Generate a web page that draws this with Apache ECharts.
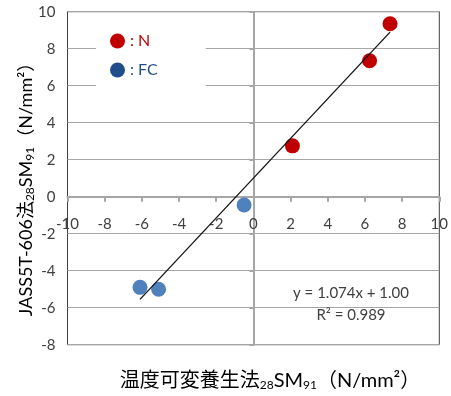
<!DOCTYPE html>
<html>
<head>
<meta charset="utf-8">
<script src="https://cdn.jsdelivr.net/npm/echarts@6/dist/echarts.min.js"></script>
<style>
  html, body { margin: 0; padding: 0; background: #fff; }
  #chart { width: 451px; height: 396px; }
</style>
</head>
<body>
<div id="chart"></div>
<script>
// Strength pairs: [温度可変養生法 28SM91, JASS5T-606法 28SM91] in N/mm²
const seriesNames = [': N', ': FC'];
const pointsN = [[2.1, 2.75], [6.25, 7.35], [7.35, 9.35]];
const pointsFC = [[-0.5, -0.45], [-6.1, -4.9], [-5.1, -5.0]];

// Linear fit y = slope * x + intercept
const slope = 1.074;
const intercept = 1.00;
const rSquared = 0.989;

// Axis ranges and tick spacing
const xRange = [-10, 10];
const yRange = [-8, 10];
const tickStep = 2;

const latin = "Lato, 'Noto Sans CJK JP', sans-serif";

const allX = pointsN.concat(pointsFC).map(p => p[0]);
const fitX = [Math.min(...allX), Math.max(...allX)];
const fitLine = fitX.map(x => [x, slope * x + intercept]);

// Plot box
const W = 451, H = 396;
const gridBox = { left: 67.5, right: 11, top: 11.7, bottom: 51.3 };
const plotH = H - gridBox.top - gridBox.bottom;
// lift the horizontal axis from the bottom edge up to y = 0
const xAxisLift = -plotH * (0 - yRange[0]) / (yRange[1] - yRange[0]);

const titleRich = (size) => ({
  b: { fontSize: size, fontFamily: latin, color: '#404040', lineHeight: 26 },
  s: { fontSize: 12, fontFamily: latin, color: '#404040', lineHeight: 26, padding: [9, 0, 0, 0] }
});

const chart = echarts.init(document.getElementById('chart'), null, { renderer: 'canvas' });
chart.setOption({
  animation: false,
  backgroundColor: '#fff',
  grid: Object.assign({
    show: true, borderColor: '#3f3f3f', borderWidth: 1, backgroundColor: 'transparent'
  }, gridBox),
  xAxis: {
    type: 'value', min: xRange[0], max: xRange[1], interval: tickStep,
    position: 'bottom', offset: xAxisLift,
    axisLine: { onZero: false, lineStyle: { color: '#a6a6a6', width: 2 } },
    axisTick: { show: true, inside: false, length: 5, lineStyle: { color: '#a6a6a6', width: 2 } },
    axisLabel: { color: '#404040', fontSize: 15, fontFamily: latin, margin: 20 },
    splitLine: { show: false }
  },
  yAxis: {
    type: 'value', min: yRange[0], max: yRange[1], interval: tickStep,
    axisLine: { onZero: true, onZeroAxisIndex: 0, lineStyle: { color: '#a6a6a6', width: 2 } },
    axisTick: { show: true, inside: false, length: 4, lineStyle: { color: '#a6a6a6', width: 2 } },
    axisLabel: { color: '#404040', fontSize: 15, fontFamily: latin, margin: 12 },
    splitLine: { show: true, lineStyle: { color: '#a6a6a6', width: 1.2 } }
  },
  legend: {
    orient: 'vertical',
    left: 96, top: 26,
    padding: [7, 48, 9, 14],
    backgroundColor: '#fff',
    icon: 'circle',
    itemWidth: 15, itemHeight: 15, itemGap: 13,
    selectedMode: false,
    textStyle: { fontSize: 16, fontFamily: latin },
    data: [
      { name: seriesNames[0], textStyle: { color: '#c00000' }, itemStyle: { color: '#c00000' } },
      { name: seriesNames[1], textStyle: { color: '#1f4e8a' }, itemStyle: { color: '#1f4e8a' } }
    ]
  },
  series: [
    {
      name: seriesNames[0], type: 'scatter', data: pointsN,
      symbolSize: 15, itemStyle: { color: '#c00000', opacity: 1 }, z: 3
    },
    {
      name: seriesNames[1], type: 'scatter', data: pointsFC,
      symbolSize: 15, itemStyle: { color: '#4f81bd', opacity: 1 }, z: 3
    },
    {
      name: 'fit', type: 'line', data: fitLine, symbol: 'none',
      lineStyle: { color: '#111', width: 1.3 }, z: 4, silent: true
    }
  ],
  graphic: [
    {
      type: 'text', x: 351, y: 293, z: 10,
      style: {
        text: 'y = ' + slope.toFixed(3) + 'x + ' + intercept.toFixed(2),
        fill: '#404040', fontSize: 15, fontFamily: latin,
        align: 'center', verticalAlign: 'middle'
      }
    },
    {
      type: 'text', x: 351, y: 315, z: 10,
      style: {
        text: 'R² = ' + rSquared.toFixed(3),
        fill: '#404040', fontSize: 15, fontFamily: latin,
        align: 'center', verticalAlign: 'middle'
      }
    },
    {
      type: 'text', x: 270, y: 381, z: 10,
      style: {
        text: '{b|温度可変養生法}{s|28}{b|SM}{s|91}{b|（N/mm²）}',
        rich: titleRich(20), align: 'center', verticalAlign: 'middle'
      }
    },
    {
      type: 'text', x: 26, y: 185, rotation: Math.PI / 2, z: 10,
      style: {
        text: '{b|JASS5T-606法}{s|28}{b|SM}{s|91}{b|（N/mm²）}',
        rich: titleRich(18), align: 'center', verticalAlign: 'middle'
      }
    }
  ]
});
</script>
</body>
</html>
